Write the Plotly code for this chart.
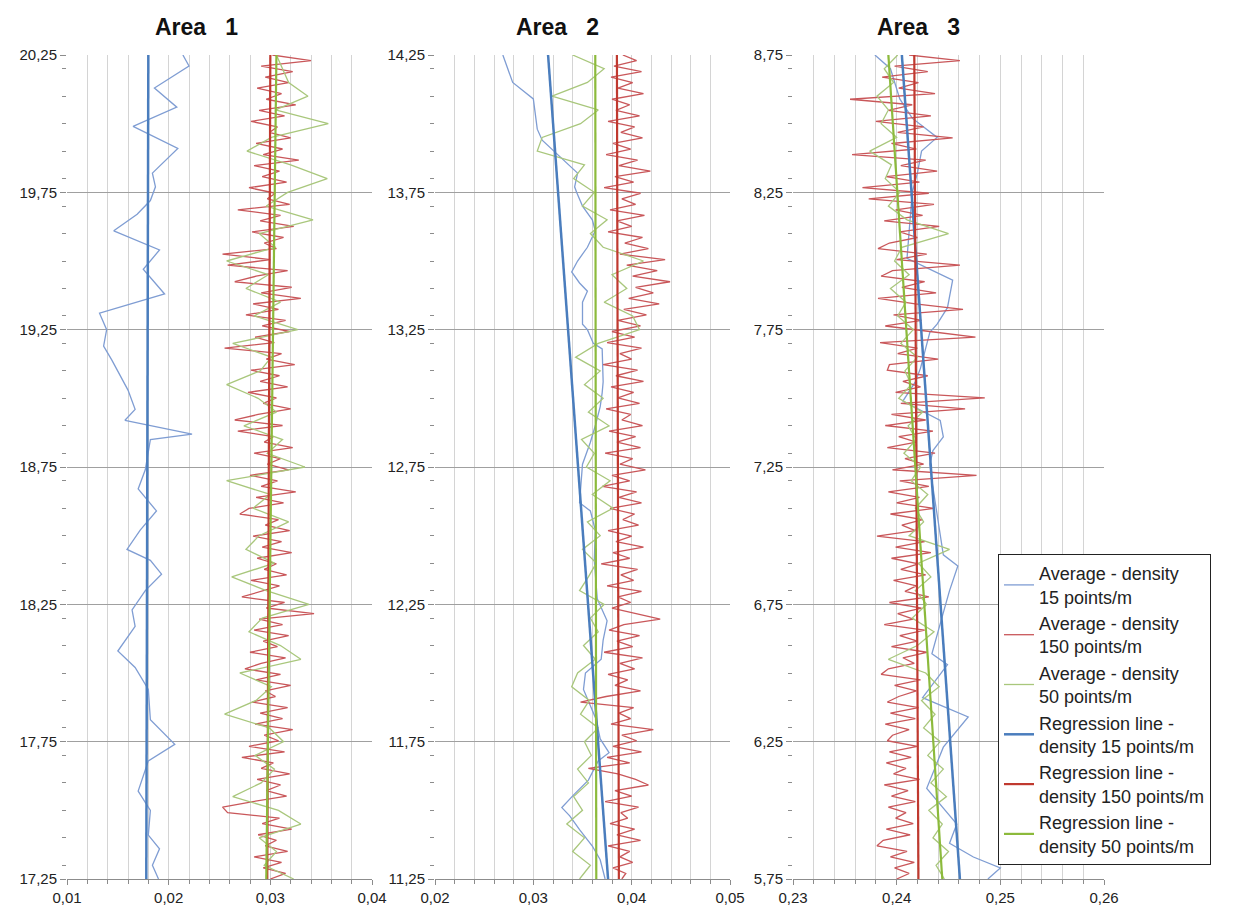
import numpy as np
import plotly.graph_objects as go

# ---------------- data ----------------
AREAS = ["Area\u00a0\u00a0\u00a01", "Area\u00a0\u00a0\u00a02", "Area\u00a0\u00a0\u00a03"]
DEPTH_TOP = [20.25, 14.25, 8.75]
DEPTH_BOTTOM = [17.25, 11.25, 5.75]
X_RANGES = [[0.01, 0.04], [0.02, 0.05], [0.23, 0.26]]

# Average - density 15 points/m
avg15_depth_1 = [20.25, 20.21, 20.13, 20.06, 19.99, 19.91, 19.82, 19.77, 19.72, 19.67, 19.61, 19.54, 19.47,
                 19.38, 19.31, 19.25, 19.19, 19.14, 19.03, 18.96, 18.92, 18.87, 18.85, 18.74, 18.67, 18.59,
                 18.52, 18.45, 18.41, 18.36, 18.30, 18.23, 18.17, 18.08, 18.02, 17.94, 17.83, 17.74, 17.68,
                 17.57, 17.50, 17.41, 17.36, 17.30, 17.25]
avg15_val_1 = [0.0214, 0.0220, 0.0186, 0.0208, 0.0165, 0.0209, 0.0184, 0.0187, 0.0182, 0.0169, 0.0146, 0.0191,
               0.0175, 0.0196, 0.0132, 0.0139, 0.0136, 0.0144, 0.0160, 0.0167, 0.0157, 0.0223, 0.0182, 0.0177,
               0.0170, 0.0188, 0.0172, 0.0159, 0.0182, 0.0193, 0.0177, 0.0164, 0.0167, 0.0150, 0.0167, 0.0180,
               0.0182, 0.0206, 0.0180, 0.0170, 0.0182, 0.0180, 0.0191, 0.0184, 0.0190]

avg15_depth_2 = [14.25, 14.15, 14.09, 13.98, 13.94, 13.89, 13.82, 13.77, 13.75, 13.70, 13.65, 13.61, 13.55,
                 13.50, 13.46, 13.42, 13.39, 13.35, 13.27, 13.25, 13.20, 13.18, 13.06, 13.02, 12.97, 12.90,
                 12.84, 12.76, 12.62, 12.59, 12.52, 12.41, 12.27, 12.19, 12.12, 12.05, 12.02, 12.00, 11.94,
                 11.88, 11.83, 11.76, 11.71, 11.68, 11.61, 11.56, 11.51, 11.48, 11.43, 11.37, 11.32, 11.25]
avg15_val_2 = [0.0269, 0.0279, 0.0300, 0.0304, 0.0309, 0.0324, 0.0345, 0.0342, 0.0344, 0.0350, 0.0360, 0.0363,
               0.0355, 0.0345, 0.0339, 0.0347, 0.0355, 0.0350, 0.0350, 0.0355, 0.0361, 0.0370, 0.0371, 0.0370,
               0.0368, 0.0363, 0.0358, 0.0350, 0.0347, 0.0358, 0.0363, 0.0362, 0.0365, 0.0375, 0.0371, 0.0369,
               0.0360, 0.0353, 0.0351, 0.0358, 0.0364, 0.0368, 0.0377, 0.0366, 0.0356, 0.0342, 0.0329, 0.0337,
               0.0347, 0.0360, 0.0368, 0.0373]

avg15_depth_3 = [8.75, 8.70, 8.59, 8.52, 8.45, 8.40, 8.32, 8.25, 8.01, 7.93, 7.83, 7.77, 7.74, 7.61, 7.56,
                 7.49, 7.42, 7.36, 7.31, 7.26, 7.20, 6.93, 6.89, 6.80, 6.72, 6.57, 6.53, 6.41, 6.34, 6.23,
                 6.08, 5.95, 5.88, 5.83, 5.79, 5.75]
avg15_val_3 = [0.2379, 0.2394, 0.2403, 0.2415, 0.2439, 0.2424, 0.2420, 0.2415, 0.2410, 0.2454, 0.2449, 0.2439,
               0.2432, 0.2423, 0.2418, 0.2406, 0.2442, 0.2445, 0.2435, 0.2432, 0.2434, 0.2445, 0.2459, 0.2451,
               0.2445, 0.2434, 0.2449, 0.2425, 0.2469, 0.2445, 0.2429, 0.2458, 0.2451, 0.2474, 0.2500, 0.2488]

# Average - density 150 points/m (read along the depth interval, top to bottom)
avg150_val_1 = [0.0302, 0.0340, 0.0291, 0.0322, 0.0295, 0.0318, 0.0287, 0.0311, 0.0296, 0.0325,
                0.0289, 0.0314, 0.0281, 0.0307, 0.0299, 0.0320, 0.0286, 0.0312, 0.0293, 0.0328,
                0.0284, 0.0309, 0.0292, 0.0316, 0.0279, 0.0305, 0.0297, 0.0319, 0.0268, 0.0310,
                0.0290, 0.0323, 0.0282, 0.0313, 0.0294, 0.0306, 0.0253, 0.0300, 0.0258, 0.0317,
                0.0286, 0.0265, 0.0321, 0.0291, 0.0330, 0.0283, 0.0308, 0.0276, 0.0315, 0.0292,
                0.0319, 0.0285, 0.0304, 0.0255, 0.0311, 0.0296, 0.0324, 0.0281, 0.0309, 0.0290,
                0.0317, 0.0278, 0.0306, 0.0293, 0.0320, 0.0288, 0.0265, 0.0312, 0.0268, 0.0303,
                0.0294, 0.0322, 0.0284, 0.0310, 0.0297, 0.0318, 0.0280, 0.0307, 0.0291, 0.0325,
                0.0286, 0.0313, 0.0279, 0.0270, 0.0308, 0.0295, 0.0319, 0.0283, 0.0311, 0.0292,
                0.0321, 0.0287, 0.0306, 0.0294, 0.0316, 0.0281, 0.0309, 0.0290, 0.0272, 0.0314,
                0.0296, 0.0343, 0.0289, 0.0312, 0.0284, 0.0318, 0.0293, 0.0307, 0.0280, 0.0315,
                0.0291, 0.0275, 0.0310, 0.0286, 0.0320, 0.0295, 0.0305, 0.0282, 0.0317, 0.0290,
                0.0312, 0.0285, 0.0322, 0.0294, 0.0308, 0.0279, 0.0314, 0.0272, 0.0303, 0.0291,
                0.0319, 0.0287, 0.0310, 0.0296, 0.0316, 0.0283, 0.0253, 0.0258, 0.0309, 0.0292,
                0.0321, 0.0288, 0.0306, 0.0295, 0.0317, 0.0284, 0.0311, 0.0293, 0.0315, 0.0300]
avg150_val_2 = [0.0391, 0.0405, 0.0382, 0.0410, 0.0379, 0.0401, 0.0386, 0.0412, 0.0380, 0.0398,
                0.0384, 0.0408, 0.0376, 0.0403, 0.0389, 0.0411, 0.0381, 0.0399, 0.0374, 0.0406,
                0.0387, 0.0419, 0.0383, 0.0402, 0.0372, 0.0409, 0.0390, 0.0404, 0.0378, 0.0413,
                0.0385, 0.0400, 0.0376, 0.0411, 0.0393, 0.0417, 0.0388, 0.0434, 0.0395, 0.0426,
                0.0401, 0.0439, 0.0404, 0.0422, 0.0397, 0.0428, 0.0392, 0.0415, 0.0386, 0.0409,
                0.0380, 0.0403, 0.0375, 0.0410, 0.0388, 0.0400, 0.0371, 0.0406, 0.0384, 0.0412,
                0.0379, 0.0402, 0.0386, 0.0408, 0.0374, 0.0399, 0.0390, 0.0411, 0.0377, 0.0404,
                0.0385, 0.0409, 0.0373, 0.0401, 0.0388, 0.0414, 0.0380, 0.0398, 0.0370, 0.0405,
                0.0387, 0.0410, 0.0378, 0.0403, 0.0391, 0.0407, 0.0376, 0.0400, 0.0384, 0.0412,
                0.0381, 0.0398, 0.0369, 0.0406, 0.0389, 0.0402, 0.0375, 0.0410, 0.0386, 0.0399,
                0.0380, 0.0405, 0.0429, 0.0392, 0.0377, 0.0408, 0.0385, 0.0401, 0.0372, 0.0411,
                0.0388, 0.0403, 0.0376, 0.0396, 0.0383, 0.0409, 0.0374, 0.0348, 0.0402, 0.0387,
                0.0399, 0.0379, 0.0422, 0.0390, 0.0405, 0.0381, 0.0410, 0.0375, 0.0398, 0.0356,
                0.0386, 0.0404, 0.0417, 0.0383, 0.0400, 0.0373, 0.0407, 0.0389, 0.0396, 0.0378,
                0.0403, 0.0385, 0.0409, 0.0376, 0.0398, 0.0388, 0.0401, 0.0381, 0.0394, 0.0390]
avg150_val_3 = [0.2412, 0.2461, 0.2398, 0.2430, 0.2386, 0.2421, 0.2402, 0.2437, 0.2355, 0.2415,
                0.2392, 0.2433, 0.2380, 0.2426, 0.2401, 0.2454, 0.2395, 0.2419, 0.2357, 0.2428,
                0.2404, 0.2439, 0.2390, 0.2422, 0.2367, 0.2431, 0.2373, 0.2436, 0.2399, 0.2425,
                0.2388, 0.2441, 0.2403, 0.2420, 0.2393, 0.2382, 0.2429, 0.2400, 0.2461, 0.2396,
                0.2385, 0.2427, 0.2405, 0.2438, 0.2382, 0.2418, 0.2464, 0.2397, 0.2424, 0.2389,
                0.2432, 0.2476, 0.2384, 0.2420, 0.2401, 0.2440, 0.2393, 0.2391, 0.2430, 0.2406,
                0.2423, 0.2399, 0.2485, 0.2404, 0.2466, 0.2395, 0.2428, 0.2389, 0.2435, 0.2402,
                0.2419, 0.2391, 0.2437, 0.2408, 0.2426, 0.2396, 0.2477, 0.2403, 0.2431, 0.2392,
                0.2422, 0.2400, 0.2436, 0.2394, 0.2425, 0.2405, 0.2418, 0.2381, 0.2427, 0.2399,
                0.2433, 0.2395, 0.2421, 0.2404, 0.2428, 0.2397, 0.2419, 0.2408, 0.2431, 0.2393,
                0.2424, 0.2401, 0.2416, 0.2388, 0.2427, 0.2403, 0.2420, 0.2395, 0.2429, 0.2406,
                0.2417, 0.2392, 0.2385, 0.2423, 0.2398, 0.2419, 0.2402, 0.2391, 0.2421, 0.2394,
                0.2418, 0.2389, 0.2412, 0.2396, 0.2391, 0.2420, 0.2393, 0.2414, 0.2390, 0.2409,
                0.2397, 0.2422, 0.2388, 0.2411, 0.2395, 0.2418, 0.2392, 0.2409, 0.2399, 0.2416,
                0.2390, 0.2413, 0.2387, 0.2381, 0.2410, 0.2394, 0.2417, 0.2398, 0.2412, 0.2400]

# Average - density 50 points/m (read along the depth interval, top to bottom)
avg50_val_1 = [0.0306, 0.0312, 0.0318, 0.0337, 0.0305, 0.0357, 0.0301, 0.0277, 0.0320, 0.0356,
               0.0317, 0.0296, 0.0342, 0.0289, 0.0305, 0.0257, 0.0298, 0.0276, 0.0310, 0.0284,
               0.0327, 0.0263, 0.0301, 0.0290, 0.0257, 0.0288, 0.0306, 0.0274, 0.0312, 0.0297,
               0.0334, 0.0257, 0.0300, 0.0283, 0.0318, 0.0289, 0.0276, 0.0304, 0.0262, 0.0296,
               0.0338, 0.0292, 0.0279, 0.0310, 0.0330, 0.0270, 0.0301, 0.0286, 0.0255, 0.0299,
               0.0313, 0.0285, 0.0304, 0.0291, 0.0263, 0.0308, 0.0330, 0.0289, 0.0306, 0.0294,
               0.0323]
avg50_val_2 = [0.0340, 0.0372, 0.0355, 0.0319, 0.0366, 0.0348, 0.0309, 0.0304, 0.0352, 0.0341,
               0.0362, 0.0350, 0.0375, 0.0358, 0.0371, 0.0412, 0.0380, 0.0395, 0.0372, 0.0401,
               0.0408, 0.0366, 0.0343, 0.0368, 0.0352, 0.0371, 0.0356, 0.0377, 0.0349, 0.0362,
               0.0354, 0.0378, 0.0360, 0.0381, 0.0355, 0.0368, 0.0350, 0.0364, 0.0356, 0.0347,
               0.0372, 0.0358, 0.0366, 0.0351, 0.0363, 0.0345, 0.0339, 0.0357, 0.0348, 0.0366,
               0.0352, 0.0359, 0.0345, 0.0356, 0.0341, 0.0350, 0.0334, 0.0352, 0.0340, 0.0358,
               0.0347]
avg50_val_3 = [0.2401, 0.2388, 0.2397, 0.2381, 0.2392, 0.2385, 0.2400, 0.2374, 0.2395, 0.2389,
               0.2403, 0.2392, 0.2410, 0.2450, 0.2405, 0.2398, 0.2412, 0.2394, 0.2409, 0.2401,
               0.2416, 0.2404, 0.2420, 0.2408, 0.2414, 0.2402, 0.2425, 0.2411, 0.2419, 0.2407,
               0.2423, 0.2414, 0.2430, 0.2418, 0.2426, 0.2412, 0.2451, 0.2421, 0.2433, 0.2418,
               0.2429, 0.2415, 0.2436, 0.2420, 0.2392, 0.2428, 0.2441, 0.2424, 0.2437, 0.2426,
               0.2442, 0.2430, 0.2445, 0.2433, 0.2448, 0.2431, 0.2444, 0.2435, 0.2450, 0.2438,
               0.2446]

# Regression lines: value at top and bottom depth of each area
reg15 = [[0.0180, 0.0178], [0.0315, 0.0376], [0.2405, 0.2461]]
reg150 = [[0.0300, 0.0297], [0.0385, 0.0387], [0.2417, 0.2421]]
reg50 = [[0.0306, 0.0296], [0.0363, 0.0364], [0.2392, 0.2444]]

SERIES_NAMES = ["Average - density<br>15 points/m",
                "Average - density<br>150 points/m",
                "Average - density<br>50 points/m",
                "Regression line -<br>density 15 points/m",
                "Regression line -<br>density 150 points/m",
                "Regression line -<br>density 50 points/m"]

avg15_depth = [avg15_depth_1, avg15_depth_2, avg15_depth_3]
avg15_val = [avg15_val_1, avg15_val_2, avg15_val_3]
avg150_val = [avg150_val_1, avg150_val_2, avg150_val_3]
avg50_val = [avg50_val_1, avg50_val_2, avg50_val_3]

# ---------------- styles ----------------
C_AVG15 = "#7f9dd3"
C_AVG150 = "#c9575a"
C_AVG50 = "#a9c77c"
C_REG15 = "#4a7dbd"
C_REG150 = "#c0392f"
C_REG50 = "#8cba3c"

W, H = 1239, 910
panel_px = [(67, 372), (435, 730), (793, 1104)]
top_px, bot_px = 55, 879
title_px = [196, 557, 918]

FONT = "Liberation Sans, Arial, sans-serif"

fig = go.Figure()

for k in range(3):
    xa = "x" if k == 0 else f"x{k+1}"
    ya = "y" if k == 0 else f"y{k+1}"
    show = (k == 0)
    top, bot = DEPTH_TOP[k], DEPTH_BOTTOM[k]
    d150 = np.linspace(top, bot, len(avg150_val[k]))
    d50 = np.linspace(top, bot, len(avg50_val[k]))
    fig.add_trace(go.Scatter(x=avg15_val[k], y=avg15_depth[k], mode="lines", name=SERIES_NAMES[0],
                             line=dict(color=C_AVG15, width=1.3), xaxis=xa, yaxis=ya,
                             showlegend=show, legendgroup="g0"))
    fig.add_trace(go.Scatter(x=avg150_val[k], y=d150, mode="lines", name=SERIES_NAMES[1],
                             line=dict(color=C_AVG150, width=1.3), xaxis=xa, yaxis=ya,
                             showlegend=show, legendgroup="g1"))
    fig.add_trace(go.Scatter(x=avg50_val[k], y=d50, mode="lines", name=SERIES_NAMES[2],
                             line=dict(color=C_AVG50, width=1.3), xaxis=xa, yaxis=ya,
                             showlegend=show, legendgroup="g2"))
    fig.add_trace(go.Scatter(x=reg15[k], y=[top, bot], mode="lines", name=SERIES_NAMES[3],
                             line=dict(color=C_REG15, width=2.5), xaxis=xa, yaxis=ya,
                             showlegend=show, legendgroup="g3"))
    fig.add_trace(go.Scatter(x=reg150[k], y=[top, bot], mode="lines", name=SERIES_NAMES[4],
                             line=dict(color=C_REG150, width=2.2), xaxis=xa, yaxis=ya,
                             showlegend=show, legendgroup="g4"))
    fig.add_trace(go.Scatter(x=reg50[k], y=[top, bot], mode="lines", name=SERIES_NAMES[5],
                             line=dict(color=C_REG50, width=2.2), xaxis=xa, yaxis=ya,
                             showlegend=show, legendgroup="g5"))

layout = dict(
    width=W, height=H,
    margin=dict(l=0, r=0, t=0, b=0, autoexpand=False),
    paper_bgcolor="white", plot_bgcolor="white",
    separators=", ",
    font=dict(family=FONT, size=15, color="#222222"),
    showlegend=True,
    legend=dict(x=998 / W, y=1 - 554 / H, xanchor="left", yanchor="top",
                bgcolor="white", bordercolor="#222222", borderwidth=1,
                font=dict(family=FONT, size=18, color="#222222"),
                tracegroupgap=0, traceorder="normal"),
    annotations=[],
)

for k in range(3):
    xk = "xaxis" if k == 0 else f"xaxis{k+1}"
    yk = "yaxis" if k == 0 else f"yaxis{k+1}"
    xa = "x" if k == 0 else f"x{k+1}"
    ya = "y" if k == 0 else f"y{k+1}"
    x0, x1 = panel_px[k]
    layout[xk] = dict(
        domain=[x0 / W, x1 / W], anchor=ya, automargin=False,
        range=X_RANGES[k], dtick=0.01, tick0=X_RANGES[k][0], tickformat=".2f",
        showgrid=True, gridcolor="#d4d4d4", gridwidth=1,
        zeroline=False, showline=True, linecolor="#8c8c8c", linewidth=1,
        ticks="outside", ticklen=5, tickcolor="#8c8c8c",
        minor=dict(dtick=0.002, showgrid=True, gridcolor="#d4d4d4", gridwidth=1,
                   ticks="outside", ticklen=4, tickcolor="#8c8c8c"),
        tickfont=dict(size=15, color="#222222"),
        fixedrange=True,
    )
    layout[yk] = dict(
        domain=[1 - bot_px / H, 1 - top_px / H], anchor=xa, automargin=False,
        range=[DEPTH_BOTTOM[k], DEPTH_TOP[k]], dtick=0.5, tick0=DEPTH_BOTTOM[k], tickformat=".2f",
        showgrid=True, gridcolor="#a0a0a0", gridwidth=1,
        zeroline=False, showline=False,
        ticks="outside", ticklen=6, tickcolor="#8c8c8c",
        minor=dict(dtick=0.1, showgrid=False, ticks="outside", ticklen=4, tickcolor="#8c8c8c"),
        tickfont=dict(size=15, color="#222222"),
        fixedrange=True,
    )
    layout["annotations"].append(dict(
        text=f"<b>{AREAS[k]}</b>", xref="paper", yref="paper",
        x=title_px[k] / W, y=1 - 27 / H, xanchor="center", yanchor="middle",
        showarrow=False, font=dict(family=FONT, size=23, color="#111111")))

fig.update_layout(**layout)
fig.write_html("out.html", config={"displayModeBar": False},
               post_script="document.body.style.margin='0';document.body.style.overflow='hidden';")
